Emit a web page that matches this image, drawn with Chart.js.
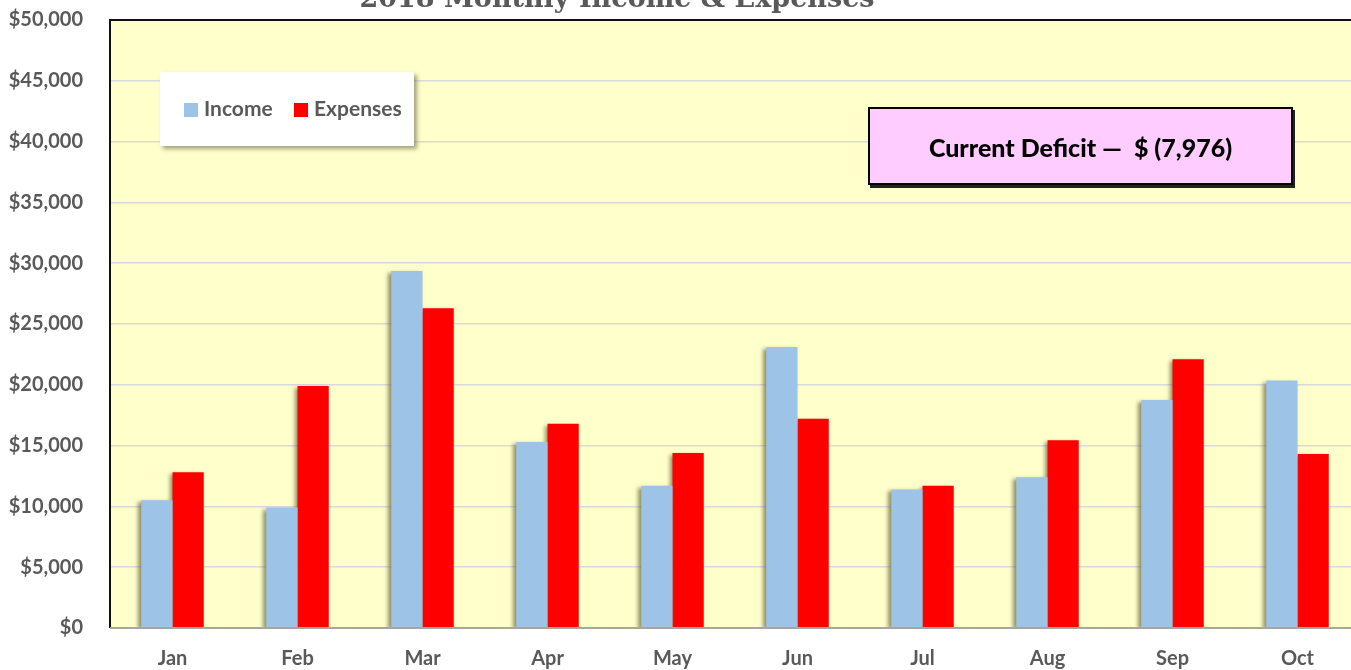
<!DOCTYPE html>
<html>
<head>
<meta charset="utf-8">
<script src="https://cdn.jsdelivr.net/npm/chart.js@4.4.0/dist/chart.umd.min.js"></script>
<style>
  html, body { margin: 0; padding: 0; background: #ffffff; overflow: hidden; width: 1351px; height: 670px; }
  #wrap { position: absolute; left: 0; top: 0; width: 1360px; height: 670px; }
  #title { position: absolute; left: 0; width: 1234px; top: -18px; text-align: center; font-family: "DejaVu Serif", serif; font-weight: bold; font-size: 27px; color: #595959; white-space: nowrap; }
  #legend { position: absolute; left: 160px; top: 72px; width: 254px; height: 74px; background: #ffffff; box-shadow: 3px 3px 4px rgba(90,90,60,0.55); font-family: Lato, "Open Sans", sans-serif; font-weight: bold; font-size: 21px; color: #595959; }
  #legend .item { position: absolute; top: 25px; line-height: 22px; }
  #legend .sw { display: inline-block; width: 14px; height: 14px; margin-right: 6px; vertical-align: -1px; }
  #deficit { position: absolute; left: 868px; top: 107px; width: 421px; height: 74px; background: #FFCCFF; border: 2px solid #000; box-shadow: 2px 3px 0 #222; font-family: Lato, "Open Sans", sans-serif; font-weight: 900; font-size: 25px; color: #000; text-align: center; line-height: 76px; white-space: pre; }
</style>
</head>
<body>
<div id="wrap">
  <canvas id="c" width="1360" height="670"></canvas>
</div>
<div id="title">2018 Monthly Income &amp; Expenses</div>
<div id="legend">
  <div class="item" style="left:24px;"><span class="sw" style="background:#9DC3E6"></span>Income</div>
  <div class="item" style="left:134px;"><span class="sw" style="background:#FF0000"></span>Expenses</div>
</div>
<div id="deficit">Current Deficit —  $ (7,976)</div>
<script>
const months = ["Jan","Feb","Mar","Apr","May","Jun","Jul","Aug","Sep","Oct"];
const income = [10500, 9900, 29350, 15300, 11700, 23100, 11400, 12400, 18750, 20350];
const expenses = [12800, 19900, 26300, 16800, 14400, 17200, 11700, 15450, 22100, 14300];
const yTicks = [0, 5000, 10000, 15000, 20000, 25000, 30000, 35000, 40000, 45000, 50000];

const plotBg = {
  id: 'plotBg',
  beforeDraw(chart) {
    const {ctx, chartArea: a} = chart;
    ctx.save();
    ctx.fillStyle = '#FFFFCC';
    ctx.fillRect(a.left, a.top, a.right - a.left, a.bottom - a.top);
    ctx.restore();
  },
  beforeDatasetsDraw(chart) {
    const ctx = chart.ctx;
    ctx.save();
    ctx.shadowColor = 'rgba(100,100,60,0.7)';
    ctx.shadowBlur = 4;
    ctx.shadowOffsetX = -3;
    ctx.shadowOffsetY = 2;
  },
  afterDatasetsDraw(chart) {
    chart.ctx.restore();
    const {ctx, chartArea: a} = chart;
    ctx.save();
    ctx.strokeStyle = '#111';
    ctx.lineWidth = 2;
    ctx.beginPath();
    ctx.moveTo(a.left, a.bottom);
    ctx.lineTo(a.left, a.top);
    ctx.lineTo(a.right, a.top);
    ctx.stroke();
    ctx.strokeStyle = '#A6A6A6';
    ctx.beginPath();
    ctx.moveTo(a.left, a.bottom);
    ctx.lineTo(a.right, a.bottom);
    ctx.stroke();
    ctx.restore();
  }
};

new Chart(document.getElementById('c'), {
  type: 'bar',
  data: {
    labels: months,
    datasets: [
      { label: 'Income', data: income, backgroundColor: '#9DC3E6' },
      { label: 'Expenses', data: expenses, backgroundColor: '#FF0000' }
    ]
  },
  options: {
    responsive: false,
    animation: false,
    layout: { padding: { top: 20, right: 0, left: 0, bottom: 0 } },
    datasets: { bar: { categoryPercentage: 0.5, barPercentage: 1.0 } },
    plugins: { legend: { display: false }, tooltip: { enabled: false } },
    scales: {
      x: {
        grid: { display: false, drawTicks: false },
        border: { display: false },
        ticks: { color: '#595959', padding: 19, font: { family: 'Lato, "Open Sans", sans-serif', weight: 'bold', size: 20 } },
        afterFit(s) { s.height = 42; s.paddingLeft = 0; s.paddingRight = 0; }
      },
      y: {
        min: 0, max: 50000,
        afterBuildTicks(s) { s.ticks = yTicks.map(v => ({ value: v })); },
        grid: { color: '#D9D9E0', lineWidth: 1.5, drawTicks: false },
        border: { display: false },
        ticks: {
          color: '#595959', padding: 27,
          font: { family: 'Lato, "Open Sans", sans-serif', weight: 'bold', size: 20 },
          callback: v => '$' + Number(v).toLocaleString('en-US')
        },
        afterFit(s) { s.width = 110; s.paddingTop = 0; s.paddingBottom = 0; }
      }
    }
  },
  plugins: [plotBg]
});
</script>
</body>
</html>
